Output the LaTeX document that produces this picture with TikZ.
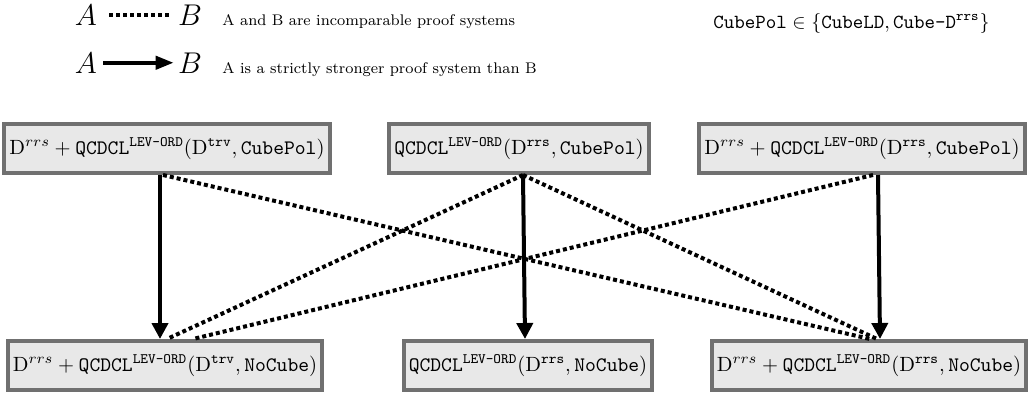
\RequirePackage{fix-cm}
\documentclass[tikz,border=0pt]{standalone}
\usepackage{amsmath}
\usetikzlibrary{arrows.meta}
\definecolor{boxgray}{RGB}{112,112,112}
\definecolor{boxfill}{RGB}{232,232,232}
\newcommand{\tts}[1]{\text{\ttfamily #1}}
\newcommand{\LO}{\mathtt{QCDCL}^{\tts{LEV-ORD}}}
\begin{document}
\begin{tikzpicture}[x=0.5pt,y=-0.5pt,
  sysbox/.style={draw=boxgray, line width=2pt, fill=boxfill, inner xsep=2.5pt, inner ysep=0pt,
    minimum height=24.5pt, font=\fontsize{10.3}{13}\selectfont},
  legab/.style={inner sep=0pt, anchor=base, font=\fontsize{15}{18}\selectfont},
  legtxt/.style={inner sep=0pt, anchor=base west, font=\fontsize{7.7}{10}\selectfont},
  incomp/.style={line width=2pt, dash pattern=on 2pt off 1.5pt},
  stronger/.style={line width=2pt, -{Triangle[width=8pt,length=8pt]}},
  legarrow/.style={line width=2pt, -{Triangle[width=6.5pt,length=9pt]}}]
\useasboundingbox (0,0) rectangle (1028,397);
% legend
\node[legab] (a1) at (86,25) {$A$};
\node[legab] (b1) at (190,25) {$B$};
\node[legtxt] (t1) at (222,25) {A and B are incomparable proof systems};
\draw[incomp] ([xshift=6pt]a1.east) -- ([xshift=-4pt]b1.west);
\node[legab] (a2) at (86,73) {$A$};
\node[legab] (b2) at (190,73) {$B$};
\node[legtxt] (t2) at (222,73) {A is a strictly stronger proof system than B};
\draw[legarrow] ([xshift=3pt]a2.east) -- ([xshift=-2pt]b2.west);
\node[inner sep=0pt, anchor=base west, font=\fontsize{10}{12}\selectfont] (cp) at (713,28)
  {$\mathtt{CubePol}\in\{\mathtt{CubeLD},\texttt{Cube-D}^{\tts{rrs}}\}$};
% boxes
\node[sysbox] (TL) at (167,148.5) {$\mathrm{D}^{rrs} + \LO(\mathrm{D}^{\mathtt{trv}}, \mathtt{CubePol})$};
\node[sysbox] (TM) at (519,148.5) {$\LO(\mathrm{D}^{\mathtt{rrs}}, \mathtt{CubePol})$};
\node[sysbox] (TR) at (862,148.5) {$\mathrm{D}^{rrs} + \LO(\mathrm{D}^{\mathtt{rrs}}, \mathtt{CubePol})$};
\node[sysbox] (BL) at (165,365.5) {$\mathrm{D}^{rrs} + \LO(\mathrm{D}^{\mathtt{trv}}, \mathtt{NoCube})$};
\node[sysbox] (BM) at (528,365.5) {$\LO(\mathrm{D}^{\mathtt{rrs}}, \mathtt{NoCube})$};
\node[sysbox] (BR) at (869,365.5) {$\mathrm{D}^{rrs} + \LO(\mathrm{D}^{\mathtt{rrs}}, \mathtt{NoCube})$};
% dotted (incomparable)
\draw[incomp] ([xshift=-2pt]TL.south) -- ([xshift=0.5pt]BR.north);
\draw[incomp] ([xshift=2pt]TM.south) -- ([xshift=1pt]BL.north);
\draw[incomp] ([xshift=2pt]TM.south) -- ([xshift=4pt]BR.north);
\draw[incomp] ([xshift=5.5pt]TR.south) -- ([xshift=14pt]BL.north);
% solid arrows (stronger)
\draw[stronger] ([xshift=-3.5pt]TL.south) -- ([xshift=-2.5pt]BL.north);
\draw[stronger] ([xshift=2pt]TM.south) -- ([xshift=-1.5pt]BM.north);
\draw[stronger] ([xshift=8pt]TR.south) -- ([xshift=5.5pt]BR.north);
\end{tikzpicture}
\end{document}
